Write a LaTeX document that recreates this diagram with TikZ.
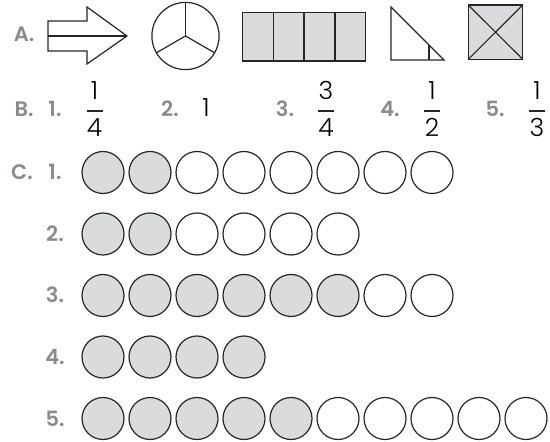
\documentclass[tikz,border=0pt]{standalone}
\usepackage{fontspec}
\setmainfont{Poppins}
\newfontfamily\lightfont{Poppins Light}
\newfontfamily\tagfont{Poppins SemiBold}
\definecolor{shade}{HTML}{DADBDC}
\definecolor{labelgray}{HTML}{8A8B8C}
\begin{document}
\begin{tikzpicture}[
        x=0.5pt, y=-0.5pt,
        every node/.style={inner sep=0pt},
        figline/.style={draw=black!85, line width=0.6pt, line join=miter},
        figfill/.style={figline, fill=shade},
        partline/.style={draw=black!85, line width=0.6pt},
        tag/.style={anchor=base, font=\tagfont\fontsize{10.5}{12}\selectfont,
            text=labelgray},
        digit/.style={anchor=base, font=\lightfont\fontsize{12.5}{14}\selectfont},
        bar/.style={draw=black!85, line width=0.6pt},
        dot/.style={circle, minimum size=21pt, draw=black!85, line width=0.6pt},
        fulldot/.style={dot, fill=shade},
        emptydot/.style={dot, fill=white}
      ]
      \useasboundingbox (0,0) rectangle (550,442);
      % part A
      \node[tag] (labA) at (24,42) {A.};
      \draw[figline] (48,21) -- (87,21) -- (87,7) -- (127,36) -- (87,64)
        -- (87,51) -- (48,51) -- cycle;
      \draw[partline] (48,36) -- (127,36);
      \draw[figline] (185.5,36) circle[radius=33.6];
      \draw[partline] (185.5,36) -- ++(0,-33.6);
      \draw[partline] (185.5,36) -- ++(-29.1,16.8);
      \draw[partline] (185.5,36) -- ++(29.1,16.8);
      \draw[figfill] (242.3,12.3) rectangle (365.7,61);
      \draw[partline] (273.2,12.3) -- (273.2,61);
      \draw[partline] (304,12.3) -- (304,61);
      \draw[partline] (334.9,12.3) -- (334.9,61);
      \draw[figline] (391,7) -- (391,60) -- (444,60) -- cycle;
      \draw[partline] (429,45) -- (429,60);
      \draw[figfill] (468.3,5) rectangle (522.7,59.3);
      \draw[partline] (468.3,5) -- (522.7,59.3);
      \draw[partline] (522.7,5) -- (468.3,59.3);
      % part B
      \node[tag] (labB) at (24,117) {B.};
      \node[tag] (b1) at (55,117) {1.};
      \node[tag] (b2) at (170,117) {2.};
      \node[tag] (b3) at (285,117) {3.};
      \node[tag] (b4) at (390,117) {4.};
      \node[tag] (b5) at (495,117) {5.};
      \node[digit] (one) at (206,117) {1};
      \foreach \x/\n/\d [count=\i] in {94.5/1/4, 326/3/4, 432/1/2, 537/1/3} {
        \node[digit] (num\i) at (\x,100) {\n};
        \node[digit] (den\i) at (\x,137) {\d};
        \draw[bar] (\x-8,111) -- (\x+8,111);
      }
      % part C
      \node[tag] (labC) at (22,180) {C.};
      \foreach \y/\n/\k [count=\r] in {172.5/8/2, 234/6/2, 295.5/8/6, 357/4/4, 418.5/10/5} {
        \node[tag] (c\r) at (55,\y+7.5) {\r.};
        \foreach \j in {1,...,\n} {
          \ifnum\j>\k\relax \def\dotkind{emptydot}\else\def\dotkind{fulldot}\fi
          \node[\dotkind] (d\r-\j) at ({103+47*(\j-1)},\y) {};
        }
      }
    \end{tikzpicture}
\end{document}
